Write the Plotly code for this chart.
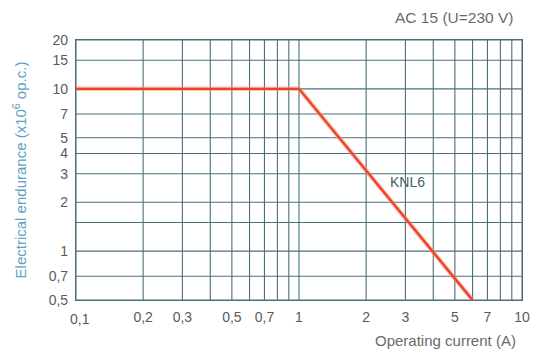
import math
import plotly.graph_objects as go

# Endurance curve for KNL6 under AC 15 (U=230 V)
current_a = [0.1, 1, 6]
endurance = [10, 10, 0.5]

x_grid = [0.1, 0.2, 0.3, 0.4, 0.5, 0.6, 0.7, 0.8, 0.9, 1, 2, 3, 4, 5, 6, 7, 8, 9, 10]
x_tick_vals = [0.2, 0.3, 0.5, 0.7, 1, 2, 3, 5, 7, 10]
x_tick_text = ["0,2", "0,3", "0,5", "0,7", "1", "2", "3", "5", "7", "10"]
y_grid = [0.5, 0.7, 1, 1.5, 2, 3, 4, 5, 7, 10, 15, 20]
y_tick_vals = [0.5, 0.7, 1, 2, 3, 4, 5, 7, 10, 15, 20]
y_tick_text = ["0,5", "0,7", "1", "2", "3", "4", "5", "7", "10", "15", "20"]

# series label position (A, x10^6 op.c.)
label_x, label_y = 3.05, 2.65

GRID = "#4b6f78"
TICK = "#5a5a5a"
FONT = "Liberation Sans"

fig = go.Figure()

# grid lines drawn as shapes so unlabeled lines (0.4, 0.6, 1.5 ...) appear too
shapes = []
for gx in x_grid:
    shapes.append(dict(type="line", xref="x", yref="paper", x0=gx, x1=gx, y0=0, y1=1,
                       line=dict(color=GRID, width=1.1), layer="below"))
for gy in y_grid:
    shapes.append(dict(type="line", xref="paper", yref="y", x0=0, x1=1, y0=gy, y1=gy,
                       line=dict(color=GRID, width=1.1), layer="below"))

# soft orange halo under the red curve
fig.add_trace(go.Scatter(x=current_a, y=endurance, mode="lines",
                         line=dict(color="rgba(245,150,80,0.55)", width=4.5),
                         hoverinfo="skip", showlegend=False))
fig.add_trace(go.Scatter(x=current_a, y=endurance, mode="lines",
                         line=dict(color="#ee3f3a", width=2.4),
                         showlegend=False))

# annotations on log axes take log10 coordinates
annotations = [
    dict(x=math.log10(x_grid[0]), y=math.log10(y_grid[0]), xref="x", yref="y", text="0,1",
         showarrow=False, xanchor="center", yanchor="top", yshift=-9, xshift=4,
         font=dict(family=FONT, size=14, color=TICK)),
    dict(x=math.log10(label_x), y=math.log10(label_y), xref="x", yref="y", text="KNL6",
         showarrow=False, xanchor="center", yanchor="middle",
         font=dict(family=FONT, size=14, color="#3f6169")),
    dict(x=1, y=1, xref="paper", yref="paper", text="AC 15 (U=230 V)",
         showarrow=False, xanchor="right", yanchor="bottom", xshift=-7, yshift=12,
         font=dict(family=FONT, size=15.5, color="#6a6a6a")),
    dict(x=1, y=0, xref="paper", yref="paper", text="Operating current (A)",
         showarrow=False, xanchor="right", yanchor="top", xshift=-4, yshift=-30,
         font=dict(family=FONT, size=15, color="#6a6a6a")),
]

fig.update_layout(
    width=534, height=352,
    margin=dict(l=76, r=12, t=40, b=52, autoexpand=False),
    paper_bgcolor="white", plot_bgcolor="white",
    shapes=shapes,
    annotations=annotations,
    xaxis=dict(type="log", range=[-1, 1], tickvals=x_tick_vals, ticktext=x_tick_text,
               showgrid=False, zeroline=False, showline=True, linecolor=GRID, linewidth=1.2,
               mirror=True, ticks="", ticklabelstandoff=4, automargin=False,
               tickfont=dict(family=FONT, size=14, color=TICK)),
    yaxis=dict(type="log", range=[math.log10(0.5), math.log10(20)],
               tickvals=y_tick_vals, ticktext=y_tick_text,
               showgrid=False, zeroline=False, showline=True, linecolor=GRID, linewidth=1.2,
               mirror=True, ticks="", ticklabelstandoff=4, automargin=False,
               title=dict(text="Electrical endurance (x10<sup>6</sup> op.c.)", standoff=18,
                          font=dict(family=FONT, size=15, color="#5aa3c4")),
               tickfont=dict(family=FONT, size=14, color=TICK)),
)

fig.write_html("out.html")
